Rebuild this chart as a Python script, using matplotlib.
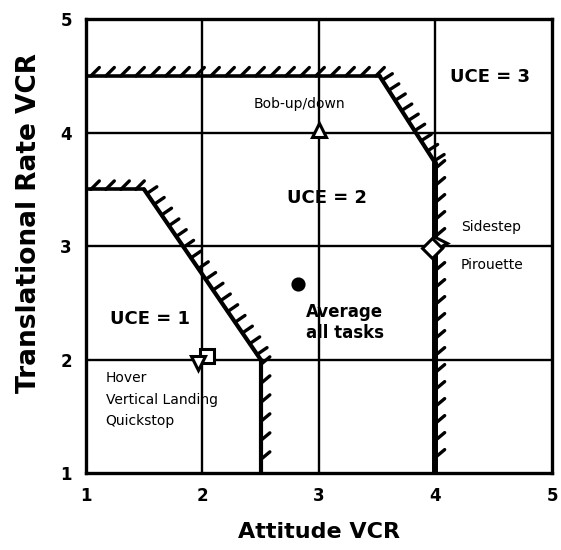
import numpy as np
import matplotlib
matplotlib.use('Agg')
import matplotlib.pyplot as plt

plt.rcParams['font.family'] = ['DejaVu Sans']

# boundary polylines (x, y) in VCR units
uce12_x = [1.0, 1.5, 2.5, 2.5]
uce12_y = [3.5, 3.5, 2.0, 1.0]
uce23_x = [1.0, 3.52, 4.0, 4.0]
uce23_y = [4.5, 4.5, 3.73, 1.0]

# tasks
task_names = ['Bob-up/down', 'Average all tasks', 'Hover', 'Vertical Landing', 'Sidestep', 'Pirouette']
task_x = [3.0, 2.82, 2.04, 1.96, 4.04, 3.97]
task_y = [4.02, 2.67, 2.03, 1.97, 3.03, 2.98]
task_marker = ['^', 'o', 's', 'v', '>', 'D']
task_fill = ['white', 'black', 'white', 'white', 'white', 'white']

ticks = [1, 2, 3, 4, 5]

fig = plt.figure(figsize=(5.61, 5.5), dpi=100)
ax = fig.add_axes([0.153, 0.14, 0.831, 0.825])
ax.set_xlim(1, 5)
ax.set_ylim(1, 5)

for t in ticks[1:-1]:
    ax.axvline(t, color='black', lw=1.7, zorder=1)
    ax.axhline(t, color='black', lw=1.7, zorder=1)

for s in ax.spines.values():
    s.set_linewidth(2.4)

ax.set_xticks(ticks)
ax.set_yticks(ticks)
ax.tick_params(length=0, pad=10, labelsize=12)
for lab in ax.get_xticklabels() + ax.get_yticklabels():
    lab.set_fontweight('bold')
ax.set_xlabel('Attitude VCR', fontsize=16, fontweight='bold', labelpad=12)
ax.set_ylabel('Translational Rate VCR', fontsize=19, fontweight='bold')
ax.yaxis.set_label_coords(-0.095, 0.55)


def hatched(xs, ys, tilts, lws, spacings, length=12):
    # draw a boundary with short hatch strokes on its left-hand side
    for i in range(len(xs) - 1):
        ax.plot(xs[i:i + 2], ys[i:i + 2], color='black', lw=lws[i],
                solid_capstyle='round', zorder=3)
    pts = ax.transData.transform(np.column_stack([xs, ys]))
    inv = ax.transData.inverted()
    for i in range(len(pts) - 1):
        p0, p1 = pts[i], pts[i + 1]
        seg = p1 - p0
        L = np.hypot(*seg)
        d = seg / L
        n = np.array([-d[1], d[0]])
        a = np.radians(tilts[i])
        v = np.array([n[0] * np.cos(a) - n[1] * np.sin(a),
                      n[0] * np.sin(a) + n[1] * np.cos(a)]) * length
        pos = 5.0
        while pos < L - 2:
            q = p0 + d * pos
            ends = inv.transform([q, q + v])
            ax.plot(ends[:, 0], ends[:, 1], color='black', lw=2.4,
                    solid_capstyle='round', zorder=3)
            pos += spacings[i]


hatched(uce12_x, uce12_y, [-45, 0, 40], [2.6, 3.0, 3.0], [15, 13, 19])
hatched(uce23_x, uce23_y, [-45, 0, 40], [2.6, 3.0, 4.3], [15, 12, 17])

for x, y, m, f in zip(task_x, task_y, task_marker, task_fill):
    ax.plot(x, y, marker=m, ms=10 if m != 'o' else 8, mfc=f, mec='black',
            mew=2.2, ls='none', zorder=5)

ax.text(4.47, 4.49, 'UCE = 3', fontsize=13, fontweight='bold', ha='center', va='center')
ax.text(3.07, 3.42, 'UCE = 2', fontsize=13, fontweight='bold', ha='center', va='center')
ax.text(1.21, 2.36, 'UCE = 1', fontsize=13, fontweight='bold', ha='left', va='center')
ax.text(3.22, 2.33, 'Average\nall tasks', fontsize=12, fontweight='bold',
        ha='center', va='center', linespacing=1.2)
ax.text(2.83, 4.25, task_names[0], fontsize=10, ha='center', va='center')
ax.text(1.17, 1.84, task_names[2], fontsize=10, ha='left', va='center')
ax.text(1.17, 1.64, task_names[3], fontsize=10, ha='left', va='center')
ax.text(1.17, 1.46, 'Quickstop', fontsize=10, ha='left', va='center')
ax.text(4.22, 3.17, task_names[4], fontsize=10, ha='left', va='center')
ax.text(4.22, 2.83, task_names[5], fontsize=10, ha='left', va='center')

fig.savefig('out.png', dpi=100)
